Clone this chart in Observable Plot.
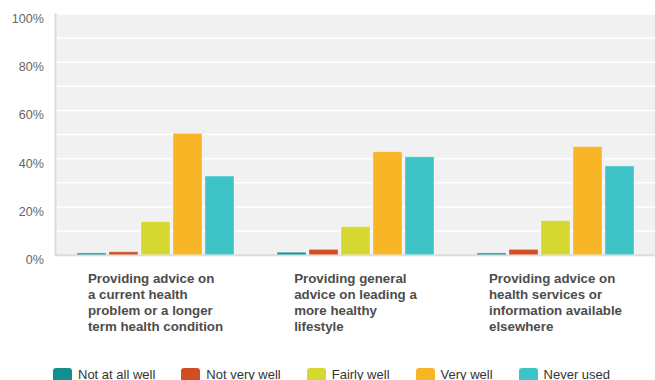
<!DOCTYPE html>
<html>
<head>
<meta charset="utf-8">
<script src="https://cdn.jsdelivr.net/npm/d3@7"></script>
<script src="https://cdn.jsdelivr.net/npm/@observablehq/plot@0.6"></script>
<style>
  html, body { margin: 0; padding: 0; background: #fff; }
  body { width: 655px; height: 380px; overflow: hidden; font-family: "Liberation Sans", Arial, sans-serif; }
  #legend { display: flex; justify-content: flex-start; padding-left: 40px; margin-top: 18px; font-size: 13px; color: #333; }
  .item { display: flex; align-items: flex-start; margin: 0 13px; }
  .swatch { width: 19px; height: 19px; border-radius: 3px; margin-right: 6px; }
  .label { line-height: 16px; position: relative; top: -1px; white-space: nowrap; }
</style>
</head>
<body>
<div id="chart"></div>
<div id="legend"></div>
<script>
// Survey question groups (x facets) and the answer options (bars within each group)
const groups = [
  "Providing advice on\na current health\nproblem or a longer\nterm health condition",
  "Providing general\nadvice on leading a\nmore healthy\nlifestyle",
  "Providing advice on\nhealth services or\ninformation available\nelsewhere"
];
const answers = ["Not at all well", "Not very well", "Fairly well", "Very well", "Never used"];
const colors = ["#12908f", "#d04f22", "#d4d82f", "#f8b526", "#3ec4c6"];

// Share of respondents (%) per answer, one array per group
const currentCondition = [0.7, 1.2, 13.7, 50.3, 32.6];
const healthyLifestyle = [1.0, 2.2, 11.6, 42.7, 40.6];
const servicesElsewhere = [0.7, 2.2, 14.1, 44.8, 36.8];

const yTicks = [0, 20, 40, 60, 80, 100];
const gridTicks = d3.range(10, 101, 10);

const seriesByGroup = [currentCondition, healthyLifestyle, servicesElsewhere];
const rows = groups.flatMap((g, gi) => answers.map((a, ai) => ({group: g, answer: a, value: seriesByGroup[gi][ai]})));

// Center each left-aligned label block under its group
const labelFont = 13.3;
const ctx = document.createElement("canvas").getContext("2d");
ctx.font = `bold ${labelFont}px 'Liberation Sans', Arial, sans-serif`;
const blockWidth = (s) => d3.max(s.split("\n"), (line) => ctx.measureText(line).width);

const labelMarks = groups.map((g) => Plot.text([g], {
  fx: (d) => d,
  text: (d) => d,
  frameAnchor: "bottom",
  textAnchor: "start",
  lineAnchor: "top",
  lineHeight: 16 / labelFont,
  dx: -blockWidth(g) / 2,
  dy: 16.5,
  fontSize: labelFont,
  fontWeight: "bold",
  fill: "#4d4d4d"
}));

const chart = Plot.plot({
  width: 655,
  height: 350,
  marginLeft: 55,
  marginRight: 0,
  marginTop: 13.5,
  marginBottom: 95.3,
  style: {fontFamily: "'Liberation Sans', Arial, sans-serif", background: "#fff"},
  fx: {domain: groups, paddingInner: 0, paddingOuter: 0, axis: null, label: null},
  x: {domain: answers, paddingInner: 0.1, paddingOuter: 0.67, axis: null},
  y: {domain: [0, 100], axis: null},
  color: {domain: answers, range: colors},
  marks: [
    // plot background and gridlines, tiled across the three groups
    Plot.frame({fill: "#f1f1f1", shapeRendering: "crispEdges"}),
    Plot.ruleY(gridTicks, {stroke: "#fff", strokeWidth: 1.5}),
    Plot.frame({anchor: "bottom", stroke: "#dcdcdc", strokeWidth: 2}),
    Plot.frame({anchor: "left", stroke: "#dcdcdc", strokeWidth: 2, facetAnchor: "left"}),
    Plot.axisY(yTicks, {
      anchor: "left",
      tickSize: 0,
      tickPadding: 11.7,
      dy: 5,
      fontSize: 12.5,
      fill: "#666",
      tickFormat: (d) => d + "%",
      label: null
    }),
    Plot.barY(rows, {
      fx: "group",
      x: "answer",
      y: "value",
      fill: "answer",
      stroke: "#fff",
      strokeOpacity: 0.35,
      strokeWidth: 1
    }),
    ...labelMarks
  ]
});
document.getElementById("chart").appendChild(chart);

// Legend row below the chart
const legend = d3.select("#legend");
answers.forEach((a, i) => {
  const item = legend.append("div").attr("class", "item");
  item.append("div").attr("class", "swatch").style("background", colors[i]);
  item.append("div").attr("class", "label").text(a);
});
</script>
</body>
</html>
